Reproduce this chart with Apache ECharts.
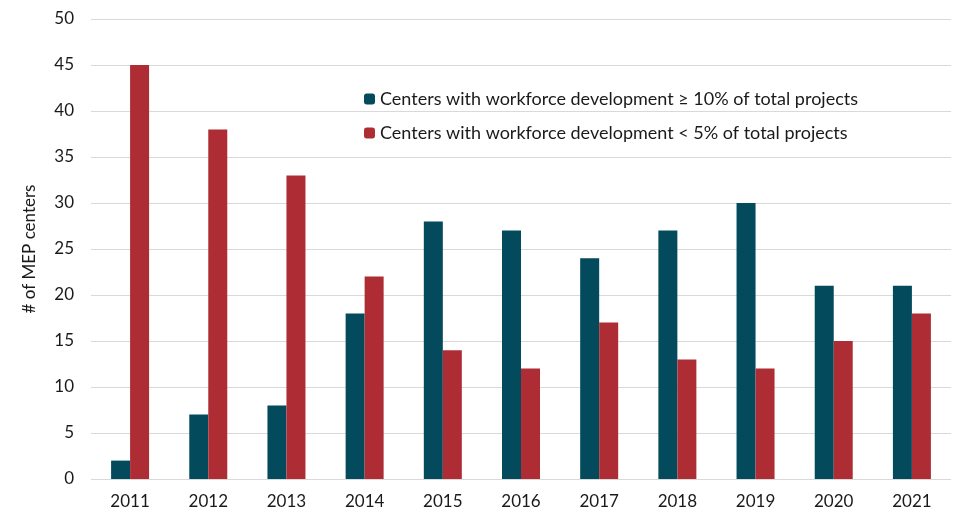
<!DOCTYPE html>
<html>
<head>
<meta charset="utf-8">
<script src="https://cdn.jsdelivr.net/npm/echarts@6/dist/echarts.min.js"></script>
<style>
  html, body { margin: 0; padding: 0; background: #fff; }
  #chart { width: 956px; height: 514px; }
</style>
</head>
<body>
<div id="chart"></div>
<script>
  var years = ['2011', '2012', '2013', '2014', '2015', '2016', '2017', '2018', '2019', '2020', '2021']
  var highWorkforce = [2, 7, 8, 18, 28, 27, 24, 27, 30, 21, 21]
  var lowWorkforce = [45, 38, 33, 22, 14, 12, 17, 13, 12, 15, 18]
  var seriesNames = [
    'Centers with workforce development \u2265 10% of total projects',
    'Centers with workforce development < 5% of total projects'
  ]

  var font = 'Lato, "Open Sans", sans-serif'
  var chart = echarts.init(document.getElementById('chart'))

  var option = {
    animation: false,
    textStyle: { fontFamily: font },
    grid: { left: 91, right: 5, top: 19, bottom: 35 },
    legend: {
      orient: 'vertical',
      left: 359,
      top: 85,
      itemWidth: 11,
      itemHeight: 11,
      itemGap: 16,
      textStyle: { fontFamily: font, fontSize: 18, color: '#1a1a1a' },
      data: seriesNames
    },
    xAxis: {
      type: 'category',
      data: years,
      axisLine: { show: false },
      axisTick: { show: false },
      axisLabel: { fontSize: 17, color: '#1a1a1a', margin: 14 }
    },
    yAxis: {
      type: 'value',
      min: 0,
      max: 50,
      interval: 5,
      name: '# of MEP centers',
      nameLocation: 'middle',
      nameGap: 53,
      nameTextStyle: { fontSize: 17, color: '#1a1a1a' },
      axisLabel: { fontSize: 17, color: '#1a1a1a', margin: 17 },
      splitLine: { lineStyle: { color: '#d9d9d9', width: 1 } }
    },
    series: [
      {
        name: seriesNames[0],
        type: 'bar',
        data: highWorkforce,
        barWidth: 19,
        barGap: '0%',
        itemStyle: { color: '#024a5c' }
      },
      {
        name: seriesNames[1],
        type: 'bar',
        data: lowWorkforce,
        barWidth: 19,
        barGap: '0%',
        itemStyle: { color: '#ae2d35' }
      }
    ]
  }

  chart.setOption(option)
</script>
</body>
</html>
